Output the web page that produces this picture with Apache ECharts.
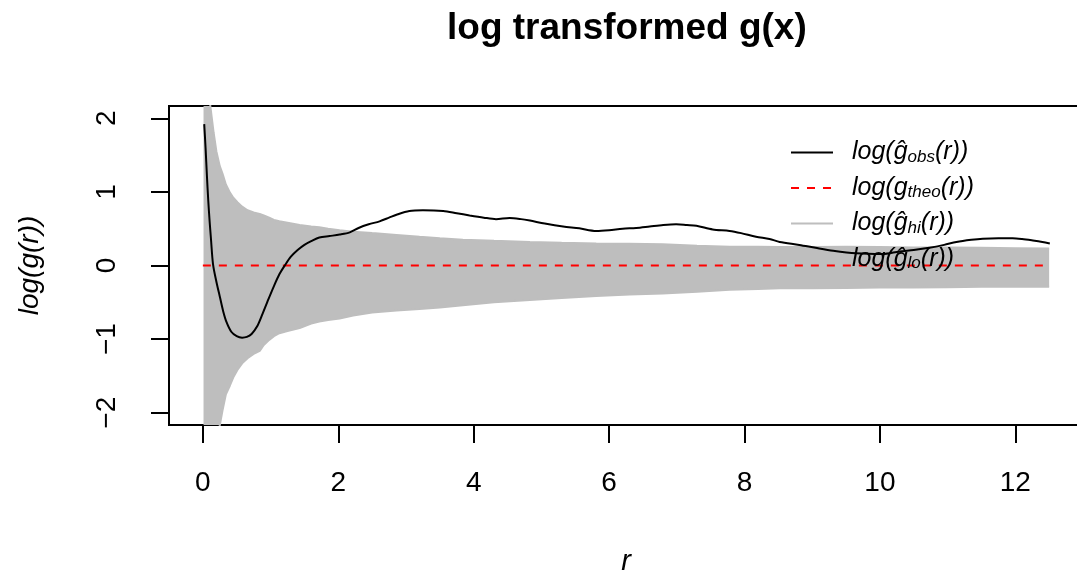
<!DOCTYPE html>
<html>
<head>
<meta charset="utf-8">
<script src="https://cdn.jsdelivr.net/npm/echarts@6/dist/echarts.min.js"></script>
<style>
  html, body { margin: 0; padding: 0; background: #fff; }
  #chart { width: 1077px; height: 576px; }
</style>
</head>
<body>
<div id="chart"></div>
<script>
// observed log g(r)
const rObs = [0.02, 0.04, 0.06, 0.08, 0.10, 0.12, 0.15, 0.20, 0.25, 0.30, 0.35, 0.42, 0.50, 0.58, 0.65, 0.72, 0.80, 0.88, 0.95,
  1.05, 1.13, 1.21, 1.30, 1.40, 1.50, 1.60, 1.72, 1.87, 2.02, 2.17, 2.30, 2.45, 2.61, 2.75, 2.86, 3.05, 3.25, 3.55, 3.75, 3.94,
  4.15, 4.33, 4.53, 4.70, 4.83, 5.05, 5.32, 5.56, 5.81, 6.00, 6.20, 6.40, 6.60, 6.80, 6.99, 7.15, 7.29, 7.53, 7.78, 7.95,
  8.17, 8.37, 8.52, 8.81, 9.05, 9.31, 9.65, 10.04, 10.29, 10.50, 10.73, 10.95, 11.13, 11.35, 11.52, 11.75, 11.96, 12.10,
  12.26, 12.40, 12.51];
const gObs = [1.92, 1.60, 1.22, 0.88, 0.60, 0.36, 0.02, -0.22, -0.42, -0.62, -0.77, -0.90, -0.96, -0.98, -0.97, -0.93, -0.83, -0.66, -0.50,
  -0.28, -0.12, 0.00, 0.12, 0.21, 0.28, 0.33, 0.38, 0.40, 0.42, 0.45, 0.51, 0.56, 0.60, 0.65, 0.69, 0.74, 0.75, 0.74, 0.71, 0.68,
  0.65, 0.63, 0.645, 0.63, 0.61, 0.57, 0.53, 0.505, 0.47, 0.48, 0.50, 0.51, 0.53, 0.55, 0.56, 0.55, 0.54, 0.49, 0.47, 0.44,
  0.39, 0.36, 0.32, 0.28, 0.24, 0.20, 0.165, 0.155, 0.19, 0.21, 0.24, 0.28, 0.32, 0.35, 0.365, 0.37, 0.37, 0.36,
  0.34, 0.32, 0.30];

// theoretical log g(r)
const rTheo = [0, 12.5];
const gTheo = [0, 0];

// envelope (hi / lo)
const rEnv = [0.01, 0.11, 0.16, 0.20, 0.25, 0.29, 0.34, 0.40, 0.45, 0.51, 0.58, 0.66, 0.75, 0.84, 0.90, 0.98, 1.05, 1.13,
  1.25, 1.43, 1.60, 1.72, 1.85, 2.02, 2.22, 2.50, 2.86, 3.20, 3.50, 3.84, 4.30, 4.83, 5.30, 5.81, 6.30, 6.79, 7.30, 7.78,
  8.20, 8.52, 9.00, 9.50, 10.00, 10.50, 11.00, 11.50, 12.00, 12.50];
const gHi = [4.00, 2.17, 1.80, 1.55, 1.35, 1.25, 1.10, 0.99, 0.92, 0.86, 0.80, 0.75, 0.72, 0.70, 0.68, 0.65, 0.62, 0.60,
  0.58, 0.55, 0.53, 0.52, 0.50, 0.48, 0.46, 0.44, 0.415, 0.39, 0.37, 0.35, 0.335, 0.32, 0.31, 0.30, 0.295, 0.29, 0.27, 0.255,
  0.255, 0.25, 0.25, 0.255, 0.25, 0.245, 0.245, 0.24, 0.235, 0.23];
const gLo = [-4.00, -3.40, -2.90, -2.55, -2.17, -1.97, -1.75, -1.63, -1.52, -1.42, -1.33, -1.26, -1.20, -1.16, -1.08, -1.01, -0.96, -0.92,
  -0.89, -0.85, -0.79, -0.76, -0.74, -0.72, -0.68, -0.64, -0.61, -0.59, -0.57, -0.54, -0.50, -0.47, -0.44, -0.415, -0.395, -0.38, -0.355, -0.33,
  -0.32, -0.31, -0.31, -0.305, -0.30, -0.30, -0.295, -0.29, -0.29, -0.29];

const xTicks = [0, 2, 4, 6, 8, 10, 12];
const yTicks = [-2, -1, 0, 1, 2];

const FONT = 'Liberation Sans, Arial, sans-serif';
const GREY = '#BEBEBE';

const legendText = {
  obs: '{sp| }{m|log(ĝ}{s|obs}{m|(r))}',
  theo: '{sp| }{m|log(g}{s|theo}{m|(r))}',
  hi: '{sp| }{m|log(ĝ}{s|hi}{m|(r))}',
  lo: '{sp| }{m|log(ĝ}{s|lo}{m|(r))}'
};

const minus = (v) => (v < 0 ? '\u2212' + Math.abs(v) : String(v));

// grey envelope polygon, hi edge forward then lo edge back
function renderBand(params, api) {
  if (params.dataIndex !== 0) return null;
  const upper = rEnv.map((r, i) => api.coord([r, gHi[i]]));
  const lower = rEnv.map((r, i) => api.coord([r, gLo[i]])).reverse();
  const cs = params.coordSys;
  return {
    type: 'polygon',
    shape: { points: upper.concat(lower) },
    style: { fill: GREY },
    clipPath: { type: 'rect', shape: { x: cs.x, y: cs.y, width: cs.width, height: cs.height } }
  };
}

const chart = echarts.init(document.getElementById('chart'));

chart.setOption({
  animation: false,
  backgroundColor: '#fff',
  title: {
    text: 'log transformed g(x)',
    left: 447,
    top: 10,
    padding: 0,
    textStyle: { fontFamily: FONT, fontSize: 37, fontWeight: 'bold', color: '#000' }
  },
  legend: {
    orient: 'vertical',
    left: 790,
    top: 140,
    padding: 0,
    itemWidth: 42,
    itemHeight: 14,
    itemGap: 10,
    selectedMode: false,
    data: ['obs', 'theo', 'hi', 'lo'],
    formatter: (name) => legendText[name],
    itemStyle: { opacity: 0 },
    lineStyle: { width: 2 },
    textStyle: {
      rich: {
        sp: { width: 14 },
        m: { fontFamily: FONT, fontSize: 25, fontStyle: 'italic', color: '#000', lineHeight: 26 },
        s: { fontFamily: FONT, fontSize: 17, fontStyle: 'italic', color: '#000', lineHeight: 11, verticalAlign: 'bottom' }
      }
    }
  },
  grid: {
    left: 169,
    right: -6,
    top: 106,
    bottom: 151,
    show: true,
    borderColor: '#000',
    borderWidth: 2,
    backgroundColor: 'transparent',
    outerBoundsMode: 'none'
  },
  xAxis: {
    type: 'value',
    min: -0.5,
    max: 13,
    name: 'r',
    nameLocation: 'middle',
    nameGap: 122,
    nameTextStyle: { fontFamily: FONT, fontSize: 29, fontStyle: 'italic', color: '#000' },
    axisLine: { show: false, onZero: false },
    axisTick: { show: true, length: 18, customValues: xTicks, lineStyle: { color: '#000', width: 2 } },
    axisLabel: { customValues: xTicks, margin: 44, fontFamily: FONT, fontSize: 28, color: '#000' },
    splitLine: { show: false }
  },
  yAxis: {
    type: 'value',
    min: -2.167,
    max: 2.167,
    name: 'log(g(r))',
    nameLocation: 'middle',
    nameGap: 125,
    nameRotate: 90,
    nameTextStyle: { fontFamily: FONT, fontSize: 28, fontStyle: 'italic', color: '#000' },
    axisLine: { show: false, onZero: false },
    axisTick: { show: true, length: 18, customValues: yTicks, lineStyle: { color: '#000', width: 2 } },
    axisLabel: { customValues: yTicks, rotate: 90, margin: 48, fontFamily: FONT, fontSize: 28, color: '#000', formatter: minus },
    splitLine: { show: false }
  },
  series: [
    {
      name: 'band',
      type: 'custom',
      data: rEnv.map((r, i) => [r, gHi[i], gLo[i]]),
      encode: { x: 0, y: [1, 2] },
      renderItem: renderBand,
      silent: true,
      z: 1
    },
    {
      name: 'hi',
      type: 'line',
      data: rEnv.map((r, i) => [r, gHi[i]]),
      symbol: 'none',
      silent: true,
      z: 1,
      itemStyle: { color: GREY },
      lineStyle: { color: GREY, width: 2 }
    },
    {
      name: 'lo',
      type: 'line',
      data: rEnv.map((r, i) => [r, gLo[i]]),
      symbol: 'none',
      silent: true,
      z: 1,
      itemStyle: { color: GREY },
      lineStyle: { color: GREY, width: 2 }
    },
    {
      name: 'theo',
      type: 'line',
      data: rTheo.map((r, i) => [r, gTheo[i]]),
      symbol: 'none',
      silent: true,
      z: 3,
      itemStyle: { color: '#FF0000' },
      lineStyle: { color: '#FF0000', width: 2, type: [8, 8] }
    },
    {
      name: 'obs',
      type: 'line',
      data: rObs.map((r, i) => [r, gObs[i]]),
      symbol: 'none',
      smooth: 0.3,
      silent: true,
      z: 4,
      itemStyle: { color: '#000' },
      lineStyle: { color: '#000', width: 2 }
    }
  ]
});
</script>
</body>
</html>
